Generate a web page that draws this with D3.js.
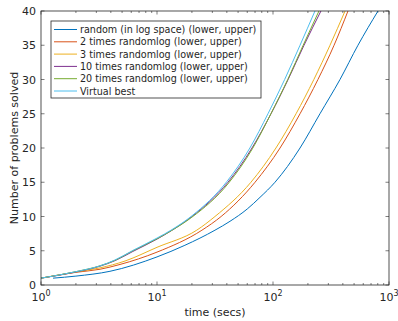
<!DOCTYPE html>
<html>
<head>
<meta charset="utf-8">
<script src="https://cdn.jsdelivr.net/npm/d3@7"></script>
<style>
  body { margin: 0; background: #fff; }
  text { font-family: "DejaVu Sans", sans-serif; fill: #262626; }
</style>
</head>
<body>
<div class="chart"></div>
<script>
// data (time in secs, problems solved)
var seriesNames = [
  'random (in log space) (lower, upper)',
  '2 times randomlog (lower, upper)',
  '3 times randomlog (lower, upper)',
  '10 times randomlog (lower, upper)',
  '20 times randomlog (lower, upper)',
  'Virtual best'
];
var colors = ['#0072BD', '#D95319', '#EDB120', '#7E2F8E', '#77AC30', '#4DBEEE'];

var randomTime = [1.27, 2.0, 3.93, 10, 17.4, 31.6, 42.6, 60, 77.3, 104, 171, 254, 378, 540, 804];
var randomSolved = [1, 1.3, 2, 4.1, 5.8, 8, 9.3, 11.1, 12.8, 15, 20, 25, 30, 35, 40];

var times2Time = [1, 2.0, 3.23, 4.8, 10, 24.4, 35.7, 70, 115, 171, 244, 336, 443];
var times2Solved = [1, 1.85, 2.3, 3, 4.8, 8, 10, 15, 20, 25, 30, 35, 40];

var times3Time = [1, 2.0, 3.23, 5.3, 10, 22, 31.6, 64.5, 106, 158, 225, 310, 418];
var times3Solved = [1, 1.9, 2.5, 3.5, 5.5, 8, 10, 15, 20, 25, 30, 35, 40];

var times10Time = [1, 2.0, 3.23, 4.34, 6.2, 10, 13.5, 20, 40.9, 65.9, 96.1, 135, 185, 259];
var times10Solved = [1, 1.9, 2.75, 3.55, 4.9, 6.7, 8, 10, 15, 20, 25, 30, 35, 40];

var times20Time = [1, 2.0, 3.23, 4.34, 6.2, 10, 13.5, 20, 41.5, 66.5, 96, 134, 182, 249];
var times20Solved = [1, 1.95, 2.8, 3.6, 5.0, 6.75, 8, 9.9, 14.9, 19.9, 25, 30, 35, 40];

var bestTime = [1, 2.0, 3.23, 4.34, 6.2, 10, 13.5, 20, 40, 63.2, 90.5, 126, 171, 230];
var bestSolved = [1, 1.95, 2.8, 3.65, 5.05, 6.85, 8.1, 10.1, 15.1, 20, 25, 30, 35, 40];

var yTicks = [0, 5, 10, 15, 20, 25, 30, 35, 40];
var xTicks = [1, 10, 100, 1000];
var xTickExp = ['0', '1', '2', '3'];

var allTimes = [randomTime, times2Time, times3Time, times10Time, times20Time, bestTime];
var allSolved = [randomSolved, times2Solved, times3Solved, times10Solved, times20Solved, bestSolved];

var width = 398, height = 321;
var margin = { left: 41, right: 9, top: 11, bottom: 36 };

var svg = d3.select('.chart').append('svg')
  .attr('width', width)
  .attr('height', height);

var xScale = d3.scaleLog().domain([1, 1000]).range([margin.left, width - margin.right]);
var yScale = d3.scaleLinear().domain([0, 40]).range([height - margin.bottom, margin.top]);

svg.append('clipPath').attr('id', 'clip')
  .append('rect')
  .attr('x', margin.left).attr('y', margin.top)
  .attr('width', width - margin.left - margin.right)
  .attr('height', height - margin.top - margin.bottom);

// minor ticks for the log axis
var minor = [];
for (var dec = 1; dec < 1000; dec *= 10) {
  for (var k = 2; k <= 9; k++) minor.push(dec * k);
}

var x0 = margin.left, x1 = width - margin.right;
var y0 = height - margin.bottom, y1 = margin.top;

var axisCol = '#262626';
var ticks = svg.append('g').attr('stroke', axisCol).attr('stroke-width', 0.6);
minor.forEach((t) => {
  ticks.append('line').attr('x1', xScale(t)).attr('x2', xScale(t)).attr('y1', y0).attr('y2', y0 - 2);
  ticks.append('line').attr('x1', xScale(t)).attr('x2', xScale(t)).attr('y1', y1).attr('y2', y1 + 2);
});
xTicks.forEach((t) => {
  ticks.append('line').attr('x1', xScale(t)).attr('x2', xScale(t)).attr('y1', y0).attr('y2', y0 - 3.5);
  ticks.append('line').attr('x1', xScale(t)).attr('x2', xScale(t)).attr('y1', y1).attr('y2', y1 + 3.5);
});
yTicks.forEach((v) => {
  ticks.append('line').attr('x1', x0).attr('x2', x0 + 3.5).attr('y1', yScale(v)).attr('y2', yScale(v));
  ticks.append('line').attr('x1', x1).attr('x2', x1 - 3.5).attr('y1', yScale(v)).attr('y2', yScale(v));
});

// lines
var line = d3.line()
  .x((d) => xScale(d[0]))
  .y((d) => yScale(d[1]))
  .curve(d3.curveMonotoneX);

var plot = svg.append('g').attr('clip-path', 'url(#clip)');
allTimes.forEach((ts, i) => {
  var pts = ts.map((t, j) => [t, allSolved[i][j]]);
  plot.append('path')
    .attr('d', line(pts))
    .attr('fill', 'none')
    .attr('stroke', colors[i])
    .attr('stroke-width', 1);
});

// box
svg.append('rect')
  .attr('x', x0).attr('y', y1)
  .attr('width', x1 - x0).attr('height', y0 - y1)
  .attr('fill', 'none')
  .attr('stroke', axisCol)
  .attr('stroke-width', 0.8);

// tick labels
yTicks.forEach((v) => {
  svg.append('text')
    .attr('x', x0 - 5)
    .attr('y', yScale(v) + 4)
    .attr('text-anchor', 'end')
    .style('font-size', '11px')
    .text(v);
});
xTicks.forEach((t, i) => {
  var tx = svg.append('text')
    .attr('x', xScale(t))
    .attr('y', y0 + 16)
    .attr('text-anchor', 'middle')
    .style('font-size', '11px');
  tx.append('tspan').text('10');
  tx.append('tspan').attr('dy', -5).style('font-size', '8px').text(xTickExp[i]);
});

// axis labels
svg.append('text')
  .attr('x', (x0 + x1) / 2)
  .attr('y', height - 5)
  .attr('text-anchor', 'middle')
  .style('font-size', '11px')
  .text('time (secs)');

svg.append('text')
  .attr('transform', 'rotate(-90)')
  .attr('x', -(y0 + y1) / 2)
  .attr('y', 18)
  .attr('text-anchor', 'middle')
  .style('font-size', '11px')
  .text('Number of problems solved');

// legend
var lg = svg.append('g');
lg.append('rect')
  .attr('x', 51).attr('y', 21)
  .attr('width', 210).attr('height', 77)
  .attr('fill', '#fff')
  .attr('stroke', axisCol)
  .attr('stroke-width', 0.8);
seriesNames.forEach((name, i) => {
  var ly = 29.5 + i * 12.3;
  lg.append('line')
    .attr('x1', 54).attr('x2', 77)
    .attr('y1', ly).attr('y2', ly)
    .attr('stroke', colors[i])
    .attr('stroke-width', 1);
  lg.append('text')
    .attr('x', 80)
    .attr('y', ly + 3.5)
    .style('font-size', '9.6px')
    .text(name);
});
</script>
</body>
</html>
